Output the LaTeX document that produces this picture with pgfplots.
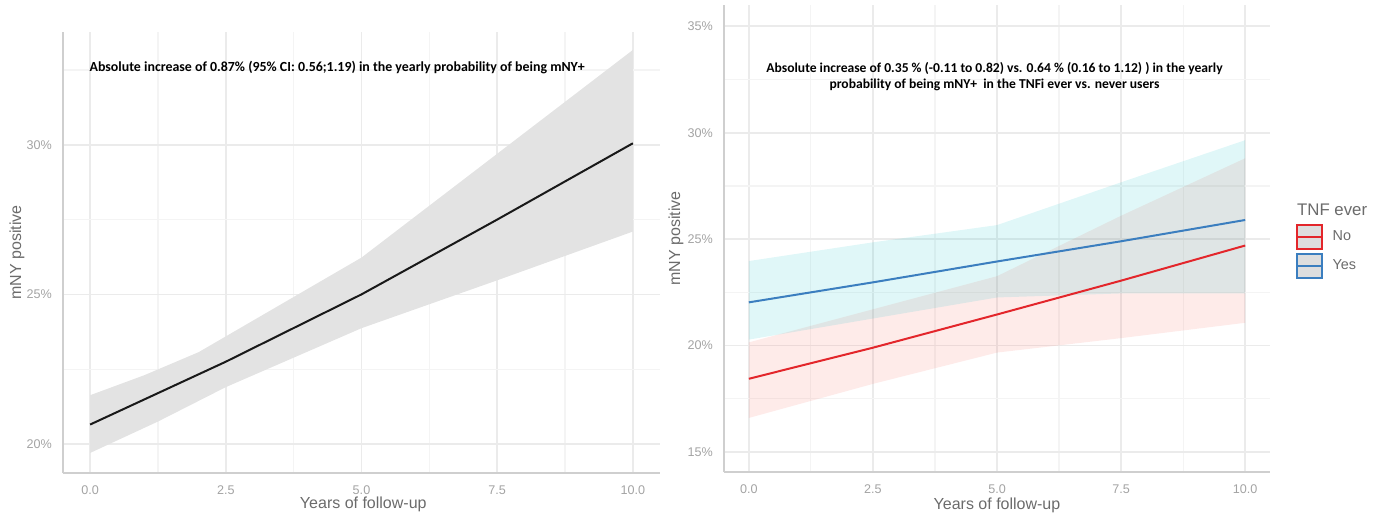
\documentclass[border=0pt]{standalone}
\usepackage{fontspec}
\setmainfont{Liberation Sans}
\newfontfamily\carlito{Carlito}
\usepackage{pgfplots}
\pgfplotsset{compat=1.18}
\definecolor{redc}{HTML}{E3262B}
\definecolor{bluec}{HTML}{3B7EBF}
\definecolor{pinkf}{HTML}{F8766D}
\definecolor{cyanf}{HTML}{00BFC4}
\definecolor{gridmaj}{HTML}{EBEBEB}
\definecolor{gridmin}{HTML}{F4F4F4}
\definecolor{tickc}{HTML}{A3A3A3}
\definecolor{labc}{HTML}{6B6B6B}
\definecolor{axc}{HTML}{CFCFCF}
\definecolor{bandc}{HTML}{E3E3E3}
\pgfplotsset{ggstyle/.style={
  scale only axis,
  axis x line*=bottom, axis y line*=left,
  axis line style={axc, line width=0.9pt, -},
  xmin=-0.5, xmax=10.5,
  xtick={0,2.5,5,7.5,10},
  xticklabels={0.0,2.5,5.0,7.5,10.0},
  minor xtick={1.25,3.75,6.25,8.75},
  grid=both,
  major grid style={gridmaj, line width=0.8pt},
  minor grid style={gridmin, line width=0.6pt},
  major tick length=0pt, minor tick length=0pt,
  tick label style={font=\fontsize{6.3}{7}\selectfont, text=tickc},
  xticklabel style={yshift=-3pt},
  yticklabel style={xshift=-2pt},
  label style={font=\fontsize{8}{9.5}\selectfont, text=labc},
  xlabel={Years of follow-up},
  ylabel={mNY positive},
  /pgf/number format/assume math mode=true,
  clip=false,
}}
\begin{document}
\begin{tikzpicture}
\useasboundingbox (0,0) rectangle (691pt,257.5pt);
% Left panel
\begin{axis}[ggstyle,
  at={(31.5pt,21pt)}, anchor=south west,
  width=298.5pt, height=220.5pt,
  ymin=19.03, ymax=33.77,
  ytick={20,25,30}, yticklabels={20\%,25\%,30\%},
  minor ytick={22.5,27.5,32.5},
  xlabel style={at={(axis description cs:0.503,-0.070)}, anchor=center},
  ylabel style={at={(axis description cs:-0.077,0.5)}, anchor=center, rotate=0},
]
\addplot[draw=none, fill=bandc, forget plot] coordinates {
 (0,21.63)(1,22.3)(2,23.07)(5,26.23)(7.5,29.7)(10,33.17)
 (10,27.1)(7.5,25.47)(5,23.87)(2.5,21.9)(1.25,20.75)(0,19.7)} -- cycle;
\addplot[black!90, line width=1pt, forget plot] coordinates {
 (0,20.65)(2.5,22.75)(5,25.0)(7.5,27.5)(10,30.05)};
\node[anchor=west, font=\carlito\bfseries\fontsize{6.95}{8}\selectfont] at (axis cs:-0.14,32.57)
 {Absolute increase of 0.87\% (95\% CI: 0.56;1.19) in the yearly probability of being mNY+};
\end{axis}
% Right panel
\begin{axis}[ggstyle,
  at={(362pt,21.5pt)}, anchor=south west,
  width=273pt, height=233.5pt,
  ymin=14.06, ymax=36.0,
  ytick={15,20,25,30,35}, yticklabels={15\%,20\%,25\%,30\%,35\%},
  minor ytick={17.5,22.5,27.5,32.5},
  xlabel style={at={(axis description cs:0.5,-0.0707)}, anchor=center},
  ylabel style={at={(axis description cs:-0.088,0.5)}, anchor=center},
  legend style={at={(axis description cs:1.047,0.531)}, anchor=north west,
    draw=none, fill=none, font=\fontsize{7.2}{8}\selectfont, text=labc,
    row sep=1.5pt, inner sep=0pt},
  legend cell align=left,
  legend image code/.code={
    \draw[#1, fill=black!13, line width=0.8pt] (0pt,-6pt) rectangle (12.5pt,6pt);
    \draw[#1, line width=1.2pt] (0pt,0pt) -- (12.5pt,0pt);
    \path (15.5pt,0pt);},
]
\addplot[draw=none, fill=pinkf, fill opacity=0.15, forget plot] coordinates {
 (0,20.15)(5,23.26)(7.5,26.1)(10,28.8)
 (10,21.07)(7.5,20.35)(5,19.67)(2.5,18.2)(0,16.6)} -- cycle;
\addplot[draw=none, fill=cyanf, fill opacity=0.12, forget plot] coordinates {
 (0,23.97)(2.5,24.85)(5,25.66)(7.5,27.67)(10,29.65)
 (10,22.45)(7.5,22.45)(5,22.26)(0,20.28)} -- cycle;
\addplot[redc, line width=1pt, forget plot] coordinates {
 (0,18.44)(2.5,19.9)(5,21.46)(7.5,23.05)(10,24.7)};
\addplot[bluec, line width=1pt, forget plot] coordinates {
 (0,22.03)(2.5,22.97)(5,23.95)(7.5,24.9)(10,25.9)};
\addlegendimage{color=redc}
\addlegendentry{No}
\addlegendimage{color=bluec}
\addlegendentry{Yes}
\node[anchor=base west, font=\fontsize{8.4}{10}\selectfont, text=labc, inner sep=0pt]
  at (axis description cs:1.049,0.550) {TNF ever};
\node[align=center, font=\carlito\bfseries\fontsize{6.8}{8.4}\selectfont] at (axis cs:4.95,32.64)
 {Absolute increase of 0.35 \% (-0.11 to 0.82) vs. 0.64 \% (0.16 to 1.12) ) in the yearly\\
  probability of being mNY+~ in the TNFi ever vs. never users};
\end{axis}
\end{tikzpicture}
\end{document}
